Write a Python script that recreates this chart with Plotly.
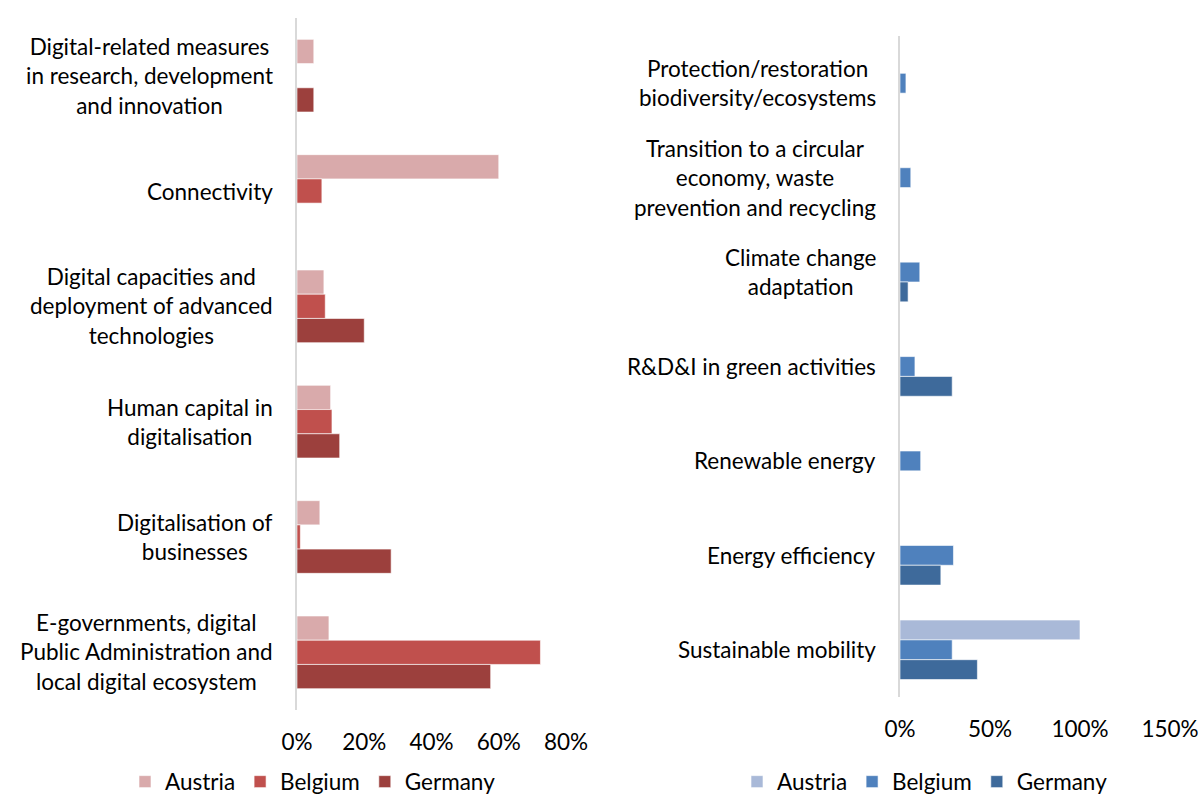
import plotly.graph_objects as go

# ---------------- data ----------------
left_categories = [
    "Digital-related measures<br>in research, development<br>and innovation",
    "Connectivity",
    "Digital capacities and<br>deployment of advanced<br>technologies",
    "Human capital in<br>digitalisation",
    "Digitalisation of<br>businesses",
    "E-governments, digital<br>Public Administration and<br>local digital ecosystem",
]
left_austria = [0.05, 0.60, 0.08, 0.10, 0.068, 0.095]
left_belgium = [None, 0.074, 0.084, 0.104, 0.010, 0.724]
left_germany = [0.05, None, 0.20, 0.127, 0.28, 0.576]

right_categories = [
    "Protection/restoration<br>biodiversity/ecosystems",
    "Transition to a circular<br>economy, waste<br>prevention and recycling",
    "Climate change<br>adaptation",
    "R&D&I in green activities",
    "Renewable energy",
    "Energy efficiency",
    "Sustainable mobility",
]
right_austria = [None, None, None, None, None, None, 1.00]
right_belgium = [0.033, 0.06, 0.11, 0.083, 0.115, 0.297, 0.29]
right_germany = [None, None, 0.045, 0.29, None, 0.227, 0.43]

series_names = ["Austria", "Belgium", "Germany"]
left_colors = ["#d9aaab", "#c0504d", "#9c403d"]
right_colors = ["#a9b9d8", "#4f81bd", "#3e6a9b"]

left_ticks = [0, 0.2, 0.4, 0.6, 0.8]
right_ticks = [0, 0.5, 1.0, 1.5]

FONT = "Lato"
FS = 22.5

fig = go.Figure()

for name, vals, col in zip(series_names, [left_austria, left_belgium, left_germany], left_colors):
    fig.add_trace(go.Bar(
        y=left_categories, x=vals, name=name, orientation="h",
        marker=dict(color=col, line=dict(color="rgba(255,255,255,0.6)", width=1)),
        xaxis="x", yaxis="y", legend="legend",
    ))

for name, vals, col in zip(series_names, [right_austria, right_belgium, right_germany], right_colors):
    fig.add_trace(go.Bar(
        y=right_categories, x=vals, name=name, orientation="h",
        marker=dict(color=col, line=dict(color="rgba(255,255,255,0.6)", width=1)),
        xaxis="x2", yaxis="y2", legend="legend2",
    ))

W, H = 1200, 794

annotations = []
for cat in left_categories:
    annotations.append(dict(
        x=0, xref="x domain", y=cat, yref="y", text=cat, showarrow=False,
        xanchor="right", yanchor="middle", align="center", xshift=-22,
        font=dict(family=FONT, size=FS, color="#000000"),
    ))
for cat in right_categories:
    annotations.append(dict(
        x=0, xref="x2 domain", y=cat, yref="y2", text=cat, showarrow=False,
        xanchor="right", yanchor="middle", align="center", xshift=-22,
        font=dict(family=FONT, size=FS, color="#000000"),
    ))

fig.update_layout(
    width=W, height=H,
    margin=dict(l=0, r=0, t=0, b=0, autoexpand=False),
    paper_bgcolor="white", plot_bgcolor="white",
    barmode="group", bargap=0.37, bargroupgap=0,
    font=dict(family=FONT, size=FS, color="#000000"),
    annotations=annotations,
    xaxis=dict(
        domain=[297 / W, 566 / W], range=[0, 0.8], tickvals=left_ticks,
        tickformat=".0%", showgrid=False, zeroline=False, showline=False,
        ticks="outside", ticklen=12, tickcolor="rgba(0,0,0,0)",
        anchor="y", tickfont=dict(family=FONT, size=FS), automargin=False,
    ),
    yaxis=dict(
        domain=[1 - 710 / H, 1 - 18 / H], autorange="reversed",
        showticklabels=False, showgrid=False, zeroline=False,
        showline=True, linecolor="#d9d9d9", linewidth=2, ticks="",
        anchor="x", type="category", automargin=False,
    ),
    xaxis2=dict(
        domain=[900 / W, 1170 / W], range=[0, 1.5], tickvals=right_ticks,
        tickformat=".0%", showgrid=False, zeroline=False, showline=False,
        ticks="outside", ticklen=12, tickcolor="rgba(0,0,0,0)",
        anchor="y2", tickfont=dict(family=FONT, size=FS), automargin=False,
    ),
    yaxis2=dict(
        domain=[1 - 697 / H, 1 - 36 / H], autorange="reversed",
        showticklabels=False, showgrid=False, zeroline=False,
        showline=True, linecolor="#d9d9d9", linewidth=2, ticks="",
        anchor="x2", type="category", automargin=False,
    ),
    legend=dict(
        orientation="h", x=313 / W, xanchor="center", y=1 - 782 / H, yanchor="middle",
        font=dict(family=FONT, size=FS), bgcolor="rgba(0,0,0,0)", traceorder="normal",
    ),
    legend2=dict(
        orientation="h", x=925 / W, xanchor="center", y=1 - 782 / H, yanchor="middle",
        font=dict(family=FONT, size=FS), bgcolor="rgba(0,0,0,0)", traceorder="normal",
    ),
)

fig.write_html(
    "out.html",
    config={"displayModeBar": False},
    post_script="document.body.style.margin='0';",
)
